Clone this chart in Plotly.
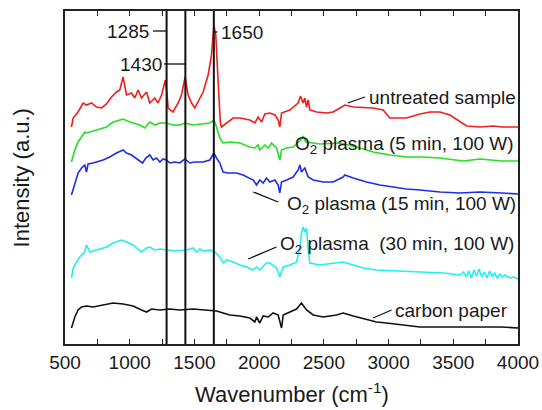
import plotly.graph_objects as go

# ---------------- data ----------------
red_x = [550, 563, 601, 640, 666, 705, 743, 782, 821, 859, 898, 923, 949, 975, 1014, 1039, 1065, 1091,
         1130, 1155, 1194, 1219, 1246, 1275, 1289, 1297, 1335, 1374, 1400, 1428, 1451, 1478, 1503, 1529,
         1567, 1606, 1632, 1650, 1665, 1680, 1690, 1700, 1709, 1748, 1799, 1851, 1928, 1967, 1992, 2019,
         2044, 2083, 2122, 2147, 2160, 2173, 2237, 2301, 2320, 2340, 2353, 2366, 2379, 2392, 2444, 2521,
         2572, 2624, 2662, 2727, 2830, 2881, 2958, 3010, 3139, 3242, 3319, 3397, 3474, 3551, 3603, 3706,
         3808, 3876, 4000]
red_y = [217, 226, 232, 241, 239, 241, 237, 236, 240, 247, 252, 254, 267, 249, 251, 246, 254, 246,
         252, 241, 246, 241, 249, 264, 249, 236, 232, 241, 249, 267, 249, 241, 236, 242,
         252, 269, 289, 319, 309, 270, 240, 222, 217, 221, 226, 226, 224, 221, 227, 222,
         230, 231, 229, 224, 217, 231, 234, 241, 248, 241, 246, 237, 244, 234, 232, 231,
         232, 236, 239, 237, 236, 236, 234, 226, 226, 230, 232, 232, 229, 222, 218, 217,
         218, 217, 217]

green_x = [550, 576, 601, 628, 653, 666, 743, 821, 872, 949, 1001, 1078, 1117, 1155, 1194, 1233, 1284,
           1335, 1387, 1426, 1490, 1542, 1619, 1650, 1671, 1696, 1721, 1773, 1851, 1928, 1967, 1992,
           2005, 2044, 2070, 2096, 2134, 2160, 2173, 2212, 2263, 2315, 2340, 2360, 2470, 2624, 2753,
           2881, 3010, 3139, 3268, 3397, 3577, 3706, 3876, 4000]
green_y = [182, 194, 202, 207, 212, 211, 214, 217, 222, 225, 222, 219, 216, 222, 219, 221, 221,
           219, 219, 221, 219, 220, 221, 224, 217, 206, 201, 202, 201, 197, 196, 199,
           194, 199, 196, 201, 196, 184, 194, 196, 197, 203, 208, 202, 200, 201, 197,
           192, 189, 187, 187, 186, 183, 185, 183, 183]

blue_x = [550, 576, 601, 628, 653, 666, 678, 717, 794, 846, 898, 949, 975, 1014, 1065, 1099, 1124, 1155,
          1181, 1207, 1233, 1258, 1284, 1310, 1348, 1387, 1426, 1464, 1503, 1567, 1619, 1650, 1671, 1696,
          1721, 1760, 1825, 1876, 1954, 1980, 2005, 2031, 2057, 2083, 2122, 2147, 2160, 2173, 2212, 2263,
          2301, 2315, 2327, 2353, 2379, 2418, 2495, 2572, 2649, 2662, 2727, 2830, 2933, 3036, 3139, 3242,
          3397, 3551, 3706, 3876, 4000]
blue_y = [149, 161, 171, 176, 179, 172, 180, 181, 184, 187, 191, 194, 191, 189, 184, 181, 186, 189,
          184, 186, 182, 185, 184, 181, 182, 181, 185, 181, 182, 182, 184, 191, 186, 181,
          172, 171, 171, 169, 164, 159, 164, 161, 166, 162, 164, 159, 151, 162, 164, 167,
          174, 179, 172, 176, 167, 164, 162, 162, 167, 169, 166, 162, 159, 157, 155, 154,
          152, 151, 152, 151, 150]

cyan_x = [550, 563, 589, 614, 653, 666, 692, 743, 821, 872, 937, 975, 1026, 1091, 1130, 1155, 1194, 1233,
          1284, 1362, 1439, 1490, 1516, 1542, 1567, 1619, 1657, 1696, 1722, 1748, 1799, 1851, 1903, 1954,
          1980, 2005, 2057, 2083, 2134, 2160, 2186, 2237, 2289, 2315, 2327, 2340, 2353, 2366, 2379, 2392,
          2470, 2572, 2649, 2727, 2804, 2907, 3062, 3242, 3422, 3551, 3580, 3600, 3620, 3640, 3660, 3680,
          3700, 3720, 3740, 3760, 3780, 3800, 3820, 3840, 3860, 3880, 3900, 3940, 3970, 4000]
cyan_y = [66, 76, 82, 87, 92, 99, 92, 94, 97, 101, 104, 102, 99, 92, 96, 97, 94, 95,
          94, 93, 94, 96, 92, 95, 93, 94, 92, 87, 81, 84, 82, 79, 77, 74,
          77, 74, 81, 81, 76, 67, 77, 79, 82, 97, 111, 117, 112, 116, 94, 81,
          79, 81, 82, 79, 76, 74, 73, 72, 71, 69, 72, 67, 73, 66, 74, 68,
          75, 67, 72, 66, 73, 68, 71, 66, 70, 67, 69, 66, 67, 65]

black_x = [550, 576, 601, 628, 666, 717, 794, 872, 949, 1026, 1091, 1130, 1169, 1233, 1310, 1387, 1490,
           1593, 1671, 1722, 1773, 1851, 1928, 1967, 1980, 2005, 2031, 2070, 2108, 2147, 2160, 2173, 2186,
           2237, 2289, 2327, 2366, 2418, 2495, 2598, 2649, 2727, 2830, 2907, 2984, 3113, 3242, 3422, 3577,
           3731, 3876, 4000]
black_y = [16, 27, 34, 37, 38, 37, 39, 41, 40, 38, 34, 32, 35, 34, 35, 34, 35,
           34, 33, 31, 29, 28, 26, 22, 27, 21, 28, 27, 31, 29, 21, 16, 29,
           32, 35, 41, 34, 29, 27, 29, 31, 28, 25, 22, 21, 19, 17, 17, 17,
           17, 17, 16]

peaks = [1285, 1430, 1650]
peak_labels = ["1285", "1430", "1650"]

x_ticks = [500, 1000, 1500, 2000, 2500, 3000, 3500, 4000]

# ---------------- figure ----------------
FONT = "Liberation Sans, Arial, sans-serif"
TXT = "#1a1a1a"

fig = go.Figure()
series = [
    (red_x, red_y, "#f21d1d", "untreated sample"),
    (green_x, green_y, "#22e022", "O2 plasma (5 min, 100 W)"),
    (blue_x, blue_y, "#1c2ee6", "O2 plasma (15 min, 100 W)"),
    (cyan_x, cyan_y, "#1ff0f0", "O2 plasma (30 min, 100 W)"),
    (black_x, black_y, "#111111", "carbon paper"),
]
for xs, ys, col, name in series:
    fig.add_trace(go.Scatter(x=xs, y=ys, mode="lines", name=name,
                             line=dict(color=col, width=1.6), showlegend=False))

# vertical peak lines
for p in peaks:
    fig.add_shape(type="line", xref="x", yref="paper", x0=p, x1=p, y0=0, y1=1,
                  line=dict(color="#111111", width=2))

shapes_leaders = [
    # peak label ticks
    (1180, 313, 1285, 313),
    (1265, 280, 1430, 280),
    (1650, 312, 1678, 312),
    # series label leaders
    (2685, 241, 2817, 247),
    (1954, 152, 2147, 142),
    (1915, 85, 2134, 97),
    (2881, 26, 3023, 34),
]
for x0, y0, x1, y1 in shapes_leaders:
    fig.add_shape(type="line", xref="x", yref="y", x0=x0, y0=y0, x1=x1, y1=y1,
                  line=dict(color="#111111", width=1.3))

ann_font = dict(family=FONT, size=19, color=TXT)
annots = [
    (1165, 313, peak_labels[0], "right"),
    (1262, 280, peak_labels[1], "right"),
    (1686, 312, peak_labels[2], "left"),
    (2830, 247, "untreated sample", "left"),
    (2263, 199, "O<sub>2</sub> plasma (5 min, 100 W)", "left"),
    (2199, 139, "O<sub>2</sub> plasma (15 min, 100 W)", "left"),
    (2145, 99, "O<sub>2</sub> plasma\u00a0 (30 min, 100 W)", "left"),
    (3033, 34, "carbon paper", "left"),
]
for x, y, t, anc in annots:
    fig.add_annotation(x=x, y=y, xref="x", yref="y", text=t, showarrow=False,
                       xanchor=anc, yanchor="middle", font=ann_font)

# axis titles
title_font = dict(family=FONT, size=22, color=TXT)
fig.add_annotation(x=0.5, y=-0.147, xref="paper", yref="paper", text="Wavenumber (cm<sup>-1</sup>)",
                   showarrow=False, xanchor="center", yanchor="middle", font=title_font)
fig.add_annotation(x=-0.095, y=0.5, xref="paper", yref="paper", text="Intensity (a.u.)",
                   showarrow=False, xanchor="center", yanchor="middle", textangle=-90, font=title_font)

fig.update_layout(
    width=542, height=410,
    margin=dict(l=65, r=24, t=11, b=66),
    paper_bgcolor="white", plot_bgcolor="white",
    font=dict(family=FONT, color=TXT),
    xaxis=dict(range=[500, 4000], tickvals=x_ticks, ticks="inside", ticklen=5, automargin=False,
               tickwidth=1.3, tickcolor="#222", showline=True, linecolor="#222", linewidth=1.5,
               mirror="ticks", showgrid=False, zeroline=False,
               minor=dict(ticks="inside", ticklen=5, dtick=250, tick0=500, tickcolor="#222",
                          tickwidth=1.3, showgrid=False),
               tickfont=dict(family=FONT, size=19, color=TXT)),
    yaxis=dict(range=[0, 333], showticklabels=False, ticks="", showline=True, linecolor="#222",
               linewidth=1.5, mirror=True, showgrid=False, zeroline=False, automargin=False),
)

fig.write_html("out.html")
